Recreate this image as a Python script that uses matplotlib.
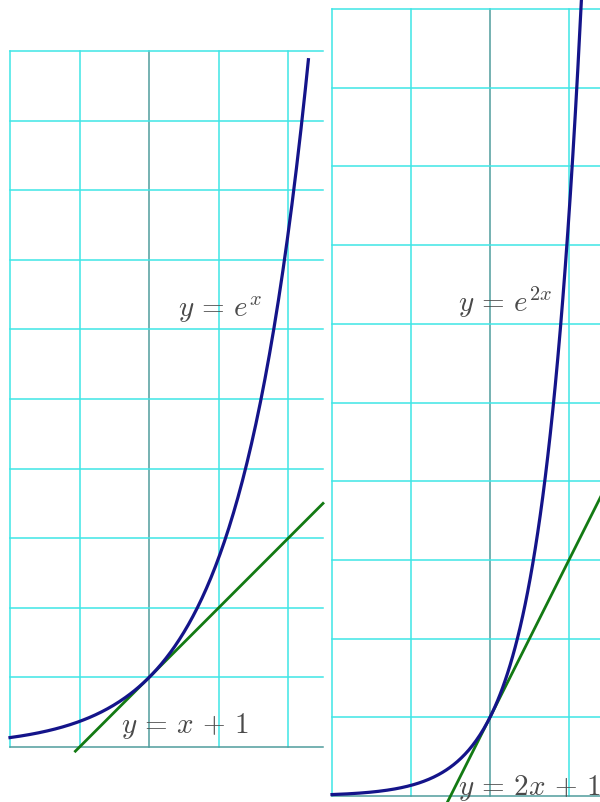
import numpy as np
import matplotlib
matplotlib.use("Agg")
import matplotlib.pyplot as plt

plt.rcParams['mathtext.fontset'] = 'cm'

# datos de las dos graficas
x_left = np.linspace(-2, 2.29, 200)
x_right = np.linspace(-2, 1.16, 200)
tan_left_x = [-1.06, 2.5]
tan_right_x = [-0.55, 2.0]

label_left_curve = r'$y\,=\,e^{x}$'
label_left_tan = r'$y\,=\,x\,+\,1$'
label_right_curve = r'$y\,=\,e^{2x}$'
label_right_tan = r'$y\,=\,2x\,+\,1$'

grid_col = '#3ee6e6'
axis_col = '#4f9c9c'
blue = '#14148a'
green = '#137a13'
text_col = '#4a4a4a'

fig = plt.figure(figsize=(6, 8.03), dpi=100)
W, H = 600, 803


def make_axes(x0, x1, y_top, y_bot, xlim, ylim):
    ax = fig.add_axes([x0 / W, (H - y_bot) / H, (x1 - x0) / W, (y_bot - y_top) / H])
    ax.set_xlim(*xlim)
    ax.set_ylim(*ylim)
    for s in ax.spines.values():
        s.set_visible(False)
    ax.set_xticks([])
    ax.set_yticks([])
    ax.patch.set_alpha(0)
    return ax


def draw_grid(ax, xs, ys, xmin, xmax, ymin, ymax):
    for gx in xs:
        c = axis_col if gx == 0 else grid_col
        ax.plot([gx, gx], [ymin, ymax], color=c, lw=1.1, clip_on=False, zorder=1)
    for gy in ys:
        c = axis_col if gy == 0 else grid_col
        ax.plot([xmin, xmax], [gy, gy], color=c, lw=1.1, clip_on=False, zorder=1)


# ---- panel izquierdo ----
axl = make_axes(10, 323, 52, 748, (-2, 2.5), (0, 10))
draw_grid(axl, range(-2, 3), range(0, 11), -2, 2.5, 0, 10)
axl.plot(x_left, np.exp(x_left), color=blue, lw=2.3, zorder=3, clip_on=False)
tx = np.array(tan_left_x)
axl.plot(tx, tx + 1, color=green, lw=2.0, zorder=2, clip_on=False)
axl.text(1.02, 6.3, label_left_curve, fontsize=21, color=text_col, ha='center', va='center', zorder=4)
axl.text(0.52, 0.32, label_left_tan, fontsize=21, color=text_col, ha='center', va='center', zorder=4)

# ---- panel derecho ----
axr = make_axes(332, 648, 10, 797, (-2, 2), (0, 10))
draw_grid(axr, range(-2, 3), range(0, 11), -2, 2, 0, 10)
axr.plot(x_right, np.exp(2 * x_right), color=blue, lw=2.3, zorder=3, clip_on=False)
tx = np.array(tan_right_x)
axr.plot(tx, 2 * tx + 1, color=green, lw=2.0, zorder=2, clip_on=False)
axr.text(0.19, 6.28, label_right_curve, fontsize=21, color=text_col, ha='center', va='center', zorder=4)
axr.text(-0.4, 0.12, label_right_tan, fontsize=21, color=text_col, ha='left', va='center', zorder=4)

fig.savefig('out.png', dpi=100)
